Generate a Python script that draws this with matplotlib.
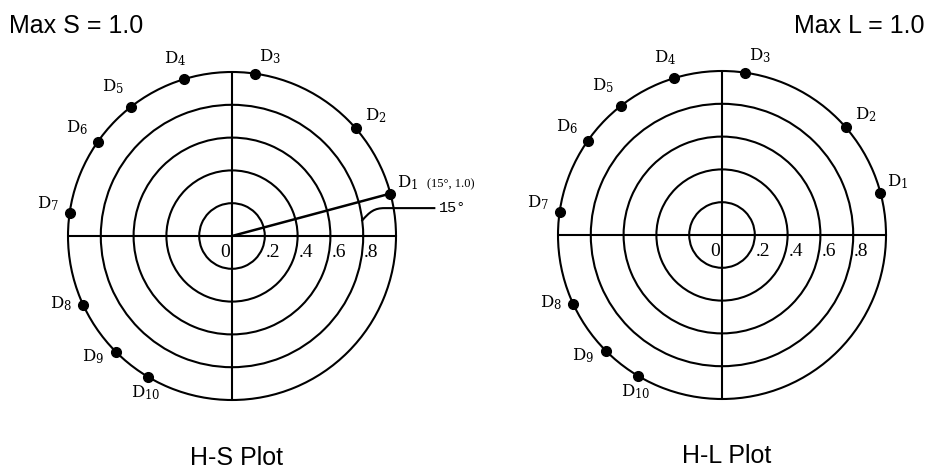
import numpy as np
import matplotlib.pyplot as plt
from matplotlib.path import Path
from matplotlib.patches import PathPatch

# Hue angles (degrees) of the ten samples and their radial values
hue_deg = [15, 41, 82, 107, 128, 145, 172, 205, 225, 239]
saturation = [1.0, 1.0, 1.0, 1.0, 1.0, 1.0, 1.0, 1.0, 1.0, 1.0]
lightness = [1.0, 1.0, 1.0, 1.0, 1.0, 1.0, 1.0, 1.0, 1.0, 1.0]
sample_ids = ['1', '2', '3', '4', '5', '6', '7', '8', '9', '10']

ring_values = [0.2, 0.4, 0.6, 0.8]
ring_labels = ['0', '.2', '.4', '.6', '.8']
ring_label_pos = [0.0, 0.2, 0.4, 0.6, 0.8]

# label placement (pixel offsets from each point, left edge / baseline)
label_dx = [7, 9, 4, -20, -29, -32, -33, -33, -34, -17]
label_dy = [6, 8, 12, 16, 15, 10, 5, -3, -9, -21]

plt.rcParams['mathtext.fontset'] = 'custom'
plt.rcParams['mathtext.rm'] = 'DejaVu Serif'
plt.rcParams['mathtext.it'] = 'DejaVu Serif'

fig = plt.figure(figsize=(9.37, 4.72), dpi=100)
W, H = 937, 472
R = 164


def make_polar(cx, cy):
    ax = fig.add_axes([(cx - R) / W, (H - cy - R) / H, 2 * R / W, 2 * R / H],
                      projection='polar')
    ax.set_ylim(0, 1)
    ax.set_yticks(ring_values)
    ax.set_xticks(np.deg2rad([0, 90, 180, 270]))
    ax.set_xticklabels([])
    ax.set_yticklabels([])
    ax.tick_params(length=0)
    ax.grid(True, color='black', lw=1.5, ls='-')
    ax.spines['polar'].set_linewidth(1.5)
    ax.spines['polar'].set_color('black')
    ax.set_facecolor('white')
    return ax


def decorate(ax, radii):
    th = np.deg2rad(hue_deg)
    ax.plot(th, radii, 'o', color='black', ms=7, zorder=5, clip_on=False)
    for t, r, sid, dx, dy in zip(th, radii, sample_ids, label_dx, label_dy):
        ax.annotate(r'$\mathrm{D}_{\mathrm{' + sid + '}}$', xy=(t, r),
                    xytext=(dx, dy), textcoords='offset pixels',
                    ha='left', va='baseline', fontsize=12, color='black',
                    annotation_clip=False)
    for lab, rp in zip(ring_labels, ring_label_pos):
        if lab == '0':
            ax.annotate(lab, xy=(0, rp), xytext=(-2, -21),
                        textcoords='offset pixels', ha='right', va='baseline',
                        family='Liberation Serif', fontsize=14)
        else:
            ax.annotate(lab, xy=(0, rp), xytext=(1, -21),
                        textcoords='offset pixels', ha='left', va='baseline',
                        family='Liberation Serif', fontsize=14)


# H-S plot
ax1 = make_polar(232, 236)
decorate(ax1, saturation)
# radius to D1 and the 15-degree callout
ax1.plot([0, np.deg2rad(hue_deg[0])], [0, saturation[0]], color='black', lw=1.8)
ax1.annotate('(15°, 1.0)', xy=(np.deg2rad(hue_deg[0]), saturation[0]),
             xytext=(37, 6), textcoords='offset pixels', ha='left',
             va='baseline', family='Liberation Serif', fontsize=9,
             annotation_clip=False)


def ax_xy(x, y):
    return (0.5 + 0.5 * x, 0.5 + 0.5 * y)


verts = [ax_xy(0.79, 0.09), ax_xy(0.84, 0.15), ax_xy(0.87, 0.17),
         ax_xy(0.93, 0.17), ax_xy(1.24, 0.17)]
codes = [Path.MOVETO, Path.CURVE4, Path.CURVE4, Path.CURVE4, Path.LINETO]
ax1.add_patch(PathPatch(Path(verts, codes), transform=ax1.transAxes,
                        fill=False, lw=1.5, color='black', clip_on=False))
ax1.text(*ax_xy(1.26, 0.17), '15°', transform=ax1.transAxes, ha='left',
         va='center', family='Liberation Mono', fontsize=11)

# H-L plot
ax2 = make_polar(722, 235)
decorate(ax2, lightness)

fig.text(9 / W, 1 - 33 / H, 'Max S = 1.0', ha='left', va='baseline',
         family='Liberation Sans', fontsize=18)
fig.text(925 / W, 1 - 33 / H, 'Max L = 1.0', ha='right', va='baseline',
         family='Liberation Sans', fontsize=18)
fig.text(237 / W, 1 - 465 / H, 'H-S Plot', ha='center', va='baseline',
         family='Liberation Sans', fontsize=18)
fig.text(727 / W, 1 - 463 / H, 'H-L Plot', ha='center', va='baseline',
         family='Liberation Sans', fontsize=18)

fig.savefig('out.png', dpi=100, facecolor='white')
